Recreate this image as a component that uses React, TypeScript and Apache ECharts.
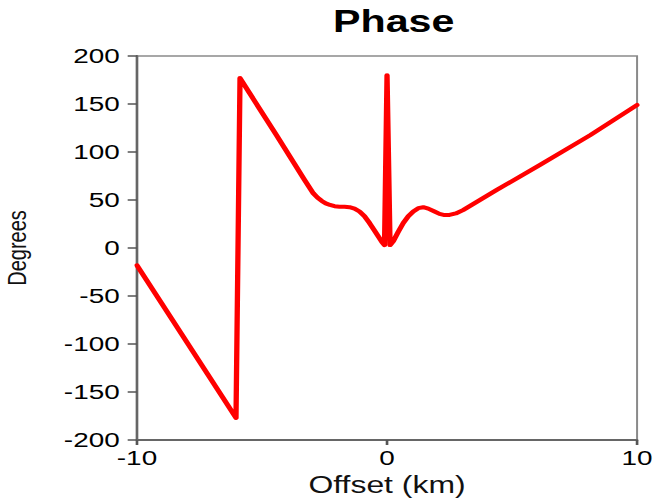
import React, { useEffect, useRef } from "react";
import * as echarts from "echarts";

const offsetKm = [
  -10, -6.04, -5.88, -4.41, -3.3, -2.95, -2.78, -2.61, -2.45, -2.28, -2.1, -1.9, -1.7, -1.5,
  -1.3, -1.1, -0.9, -0.7, -0.5, -0.35, -0.2, -0.1, 0, 0.12, 0.25, 0.45, 0.65, 0.85, 1.05,
  1.25, 1.45, 1.65, 1.9, 2.1, 2.3, 2.5, 2.75, 3.04, 4.39, 6.12, 8.12, 10,
];
const phaseDeg = [
  -18, -177, 177, 117, 71, 57, 52.5, 49, 46.5, 44.8, 43.5, 43, 43, 42.5,
  41, 38, 33, 26, 18, 12, 6, 3, 180, 3, 7, 17, 26, 33, 38,
  41.5, 42.5, 41, 38, 35.5, 34.3, 34.5, 36, 39.5, 60.5, 86.5, 117.5, 149,
];
const yTicks = { min: -200, max: 200, step: 50 };
const xTicks = { min: -10, max: 10, step: 10 };
const titleText = "Phase";
const xName = "Offset (km)";
const yName = "Degrees";

const SX = 1.33;
const W = Math.round(654 / SX);
const FONT = "'Liberation Sans', Arial, Helvetica, sans-serif";

export default function App() {
  const ref = useRef<HTMLDivElement>(null);
  useEffect(() => {
    if (!ref.current) return;
    const chart = echarts.init(ref.current, null, { renderer: "svg" });
    const data = offsetKm.map((x, i) => [x, phaseDeg[i]]);
    chart.setOption({
      animation: false,
      backgroundColor: "#fff",
      title: {
        text: titleText,
        left: 291,
        textAlign: "center",
        top: 1,
        textStyle: { fontFamily: FONT, fontWeight: "bold", fontSize: 31, color: "#000" },
      },
      grid: {
        left: 103,
        right: W - 479,
        top: 56,
        bottom: 64,
        outerBoundsMode: "none",
        containLabel: false,
        show: true,
        borderColor: "#8a8a8a",
        borderWidth: 1.5,
        backgroundColor: "transparent",
      },
      xAxis: {
        type: "value",
        min: xTicks.min,
        max: xTicks.max,
        interval: xTicks.step,
        name: xName,
        nameLocation: "middle",
        nameGap: 31,
        nameTextStyle: { fontFamily: FONT, fontSize: 24, color: "#111" },
        axisLine: { show: true, onZero: false, lineStyle: { color: "#666", width: 2 } },
        axisTick: { show: true, inside: false, length: 5, lineStyle: { color: "#555", width: 2 } },
        axisLabel: { fontFamily: FONT, fontSize: 21, color: "#000", margin: 7 },
        splitLine: { show: false },
      },
      yAxis: {
        type: "value",
        min: yTicks.min,
        max: yTicks.max,
        interval: yTicks.step,
        name: yName,
        nameLocation: "middle",
        nameGap: 80,
        nameRotate: 90,
        nameTextStyle: { fontFamily: FONT, fontSize: 20, color: "#111" },
        axisLine: { show: true, onZero: false, lineStyle: { color: "#666", width: 2 } },
        axisTick: { show: true, inside: false, length: 7, lineStyle: { color: "#555", width: 1.5 } },
        axisLabel: { fontFamily: FONT, fontSize: 21, color: "#000", margin: 13 },
        splitLine: { show: false },
      },
      series: [
        {
          type: "line",
          data,
          showSymbol: false,
          smooth: false,
          lineStyle: { color: "#ff0000", width: 4, cap: "round", join: "round" },
        },
      ],
    });
    return () => chart.dispose();
  }, []);
  return (
    <div style={{ position: "fixed", left: 0, top: 0, width: 654, height: 504, overflow: "hidden", background: "#fff" }}>
      <div
        ref={ref}
        style={{ width: W, height: 504, transform: `scaleX(${SX})`, transformOrigin: "0 0" }}
      />
    </div>
  );
}
